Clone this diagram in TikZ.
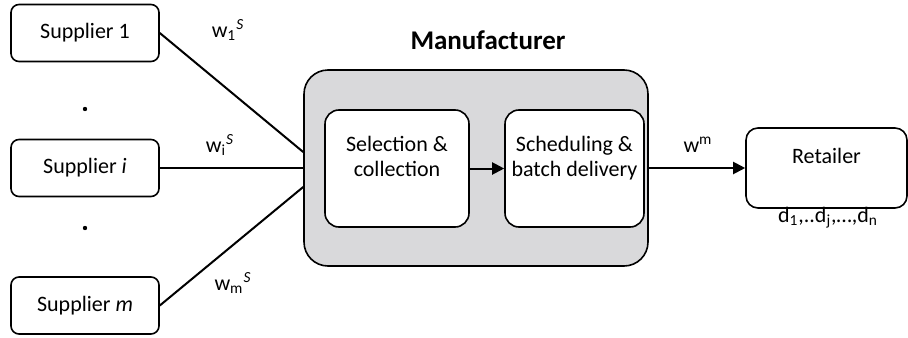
\documentclass[tikz,border=0pt]{standalone}
\usepackage{fontspec}
\setmainfont{Carlito}
\usetikzlibrary{arrows.meta}
\definecolor{mangray}{RGB}{217,217,219}
\begin{document}
\begin{tikzpicture}[x=0.5pt,y=-0.5pt,
  every node/.style={font=\fontsize{11}{12.5}\selectfont},
  supbox/.style={draw,line width=0.8pt,rounded corners=4pt,minimum width=74pt,minimum height=28.5pt,inner sep=0pt},
  innerbox/.style={draw,line width=0.8pt,rounded corners=7pt,fill=white,minimum height=58.5pt,inner sep=0pt,align=center},
  link/.style={line width=1pt},
  arr/.style={line width=1pt,-{Triangle[length=6pt,width=6pt]}},
  lab/.style={inner sep=0pt}]
\useasboundingbox (0,0) rectangle (908,337);
\node[supbox] (s1) at (85,33) {Supplier 1};
\node[supbox] (si) at (85,168) {Supplier \textit{i}};
\node[supbox] (sm) at (85,305.5) {Supplier \textit{m}};
\fill (85,109) circle (1.1pt);
\fill (85,228) circle (1.1pt);
\node[draw,line width=0.8pt,rounded corners=12pt,fill=mangray,minimum width=172pt,minimum height=98pt,inner sep=0pt] (man) at (476,168) {};
\node[font=\fontsize{13.5}{15}\selectfont\bfseries] (mlab) at (488,40) {Manufacturer};
\node[innerbox,minimum width=72pt] (sel) at (397,168.5) {Selection \&\\collection\\\mbox{}};
\node[innerbox,minimum width=69.5pt] (sch) at (574.5,168.5) {Scheduling \&\\batch delivery\\\mbox{}};
\node[draw,line width=0.8pt,rounded corners=6pt,minimum width=80.5pt,minimum height=40pt,inner sep=0pt,align=center] (ret) at (826.5,168) {Retailer\\\mbox{}};
\coordinate (m1) at ([yshift=8pt]man.west);
\coordinate (mi) at (man.west);
\coordinate (mm) at ([yshift=-9.5pt]man.west);
\draw[link] (s1.east) -- (m1);
\draw[link] (si.east) -- (mi);
\draw[link] (sm.east) -- (mm);
\draw[arr] (sel.east) -- (sch.west);
\draw[arr] (man.east) -- (ret.west);
\node[lab] (w1) at (228,30) {w\textsubscript{1}\textsuperscript{\textit{S}}};
\node[lab] (wi) at (220,145) {w\textsubscript{i}\textsuperscript{\textit{S}}};
\node[lab] (wmS) at (233,283) {w\textsubscript{m}\textsuperscript{\textit{S}}};
\node[lab] (wm) at (698,145) {w\textsuperscript{m}};
\node[lab] (dd) at (828,218) {d\textsubscript{1},..d\textsubscript{j},…,d\textsubscript{n}};
\end{tikzpicture}
\end{document}
